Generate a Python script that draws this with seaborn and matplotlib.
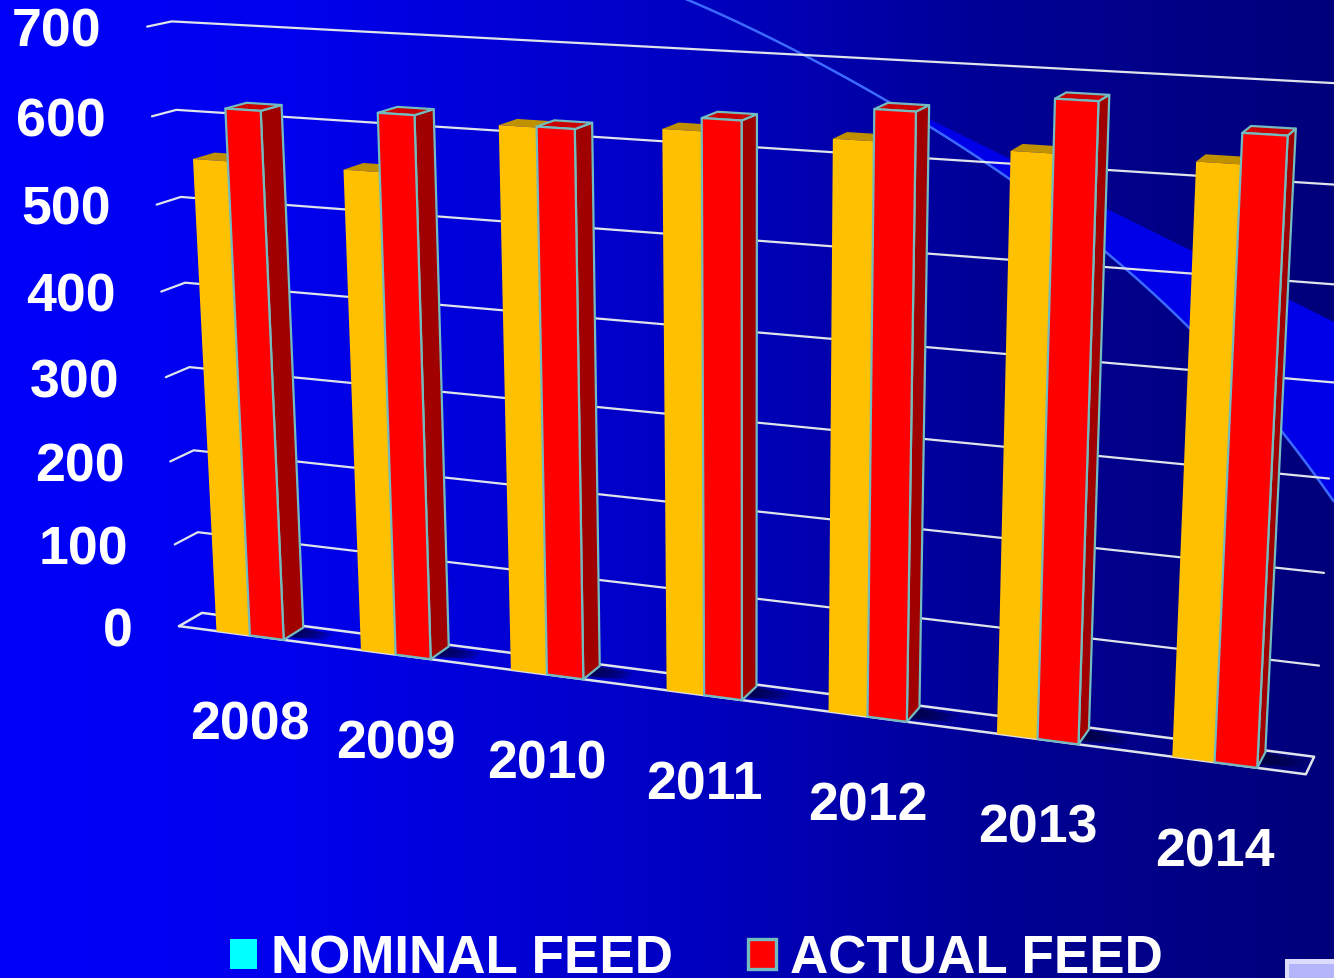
import numpy as np
import pandas as pd
import matplotlib
matplotlib.use("Agg")
import matplotlib.pyplot as plt
from matplotlib.patches import Patch, Polygon
from matplotlib.transforms import Affine2D, Transform
import seaborn as sns

# Feed per year
years = ["2008", "2009", "2010", "2011", "2012", "2013", "2014"]
nominal_feed = [555, 555, 615, 622, 623, 622, 623]
actual_feed = [614, 620, 616, 636, 656, 677, 654]
value_ticks = [0, 100, 200, 300, 400, 500, 600, 700]
series_names = ["NOMINAL FEED", "ACTUAL FEED"]

W, H = 1334, 979
FONT = "Liberation Sans"
BAR_DEPTH = 0.9

sns.set_theme(style="white")
plt.rcParams["font.family"] = [FONT, "DejaVu Sans"]

# Camera fitted to the corners of the chart box: (category, value, depth) -> pixel
box_corners = np.array([
    (-0.5, 0, 0), (-0.5, 700, 0), (-0.5, 0, 1), (-0.5, 700, 1),
    (6.5, 0, 0), (6.5, 700, 0), (6.5, 0, 1), (6.5, 700, 1)], dtype=float)
box_pixels = np.array([
    (179, 627), (147, 28), (202, 614), (172, 22),
    (1306, 775), (1342, 92), (1314, 758), (1350, 85)], dtype=float)


def fit_camera(world, pixels):
    rows, rhs = [], []
    for (x, y, z), (u, v) in zip(world, pixels):
        rows.append([x, y, z, 1, 0, 0, 0, 0, -u * x, -u * y, -u * z])
        rows.append([0, 0, 0, 0, x, y, z, 1, -v * x, -v * y, -v * z])
        rhs += [u, v]
    p = np.linalg.lstsq(np.array(rows), np.array(rhs), rcond=None)[0]
    return np.append(p, 1).reshape(3, 4)


CAM = fit_camera(box_corners, box_pixels)


def project(x, y, z=0.0):
    x, y, z = np.broadcast_arrays(x, y, z)
    q = CAM @ np.vstack([x.ravel(), y.ravel(), z.ravel(), np.ones(x.size)])
    return np.column_stack([q[0] / q[2], q[1] / q[2]])


class FrontPlane(Transform):
    """Sends (category, value) data on the front plane of the box to display pixels."""
    input_dims = output_dims = 2
    is_separable = False
    has_inverse = False

    def transform_non_affine(self, values):
        values = np.asarray(values, dtype=float)
        px = project(values[:, 0], values[:, 1], 0.0)
        return np.column_stack([px[:, 0], H - px[:, 1]])


pixels = Affine2D().scale(1, -1).translate(0, H)
front = FrontPlane()

fig = plt.figure(figsize=(W / 100, H / 100), dpi=100)

# Slide backdrop: horizontal blue fade, bright swoosh and thin curve
bg = fig.add_axes([0, 0, 1, 1], zorder=0)
bg.set_axis_off()
fade_x = [0, 300, 700, 1000, 1334]
fade_blue = [250, 236, 192, 148, 122]
ramp = np.interp(np.arange(W), fade_x, fade_blue) / 255
img = np.zeros((2, W, 3))
img[..., 2] = ramp
bg.imshow(img, aspect="auto", extent=(0, W, H, 0), interpolation="bilinear")
bg.set_xlim(0, W)
bg.set_ylim(H, 0)

curve_x = [685, 805, 885, 1000, 1107, 1188, 1283, 1334]
curve_y = [0, 55, 103, 173, 252, 330, 433, 503]
smooth = np.polynomial.Polynomial.fit(curve_x, curve_y, 4)
sweep_x = np.linspace(curve_x[0], curve_x[-1], 120)
sweep_y = smooth(sweep_x)
edge_x = [1334, 1192, 1107, 1000, 925]
edge_y = [323, 252, 210, 155, 118]
keep = sweep_x >= 885
band = list(zip(sweep_x[keep], sweep_y[keep])) + list(zip(edge_x, edge_y))
bg.add_patch(Polygon(band, closed=True, fc=(0, 0, 232 / 255), ec="none"))
bg.plot(sweep_x, sweep_y, color=(60 / 255, 105 / 255, 1), lw=1.8, solid_capstyle="butt")

# Small bevelled navigation button in the corner
bg.add_patch(Polygon([(1285, 960), (1334, 960), (1334, 979), (1285, 979)],
                     fc="#b4b4fa", ec="none"))
bg.add_patch(Polygon([(1285, 960), (1334, 960), (1334, 965), (1289, 965), (1289, 979), (1285, 979)],
                     fc="#dcdcff", ec="none"))

ax = fig.add_axes([0, 0, 1, 1], zorder=1)
ax.patch.set_visible(False)

table = pd.DataFrame({
    "year": years * 2,
    "feed": nominal_feed + actual_feed,
    "series": [series_names[0]] * len(years) + [series_names[1]] * len(years),
})
sns.barplot(data=table, x="year", y="feed", hue="series", hue_order=series_names,
            palette=["#ffc000", "#ff0000"], saturation=1, width=0.47, gap=0,
            legend=False, ax=ax, zorder=5)
ax.set_axis_off()

GRID = "#dfe3ea"
EDGE = "#72bcc0"
x_left, x_right = -0.5, 6.5

# Back wall rules, their return along the side wall, and the floor outline
for tick in value_ticks[1:]:
    xs = np.array([x_left, x_left, x_right])
    zs = np.array([0.0, 1.0, 1.0])
    ln = project(xs, np.full(3, tick), zs)
    ax.plot(ln[:, 0], ln[:, 1], color=GRID, lw=1.6, transform=pixels, clip_on=False, zorder=2)
floor = project(np.array([x_left, x_left, x_right, x_right, x_left]), 0,
                np.array([0.0, 1.0, 1.0, 0.0, 0.0]))
ax.plot(floor[:, 0], floor[:, 1], color=GRID, lw=1.8, transform=pixels, clip_on=False, zorder=4)

# Extrude each front face into a side and a top, with a soft floor shadow
for container, top_tint, side_tint, line in zip(ax.containers, ["#bf9000", "#cc0000"],
                                                [None, "#a00000"], [None, EDGE]):
    for rect in container:
        rect.set_transform(front)
        rect.set_clip_on(False)
        x0, x1 = rect.get_x(), rect.get_x() + rect.get_width()
        v = rect.get_height()
        if line:
            rect.set_edgecolor(line)
            rect.set_linewidth(1.6)
            rect.set_joinstyle("round")
            for step in range(1, 9):
                reach = x1 + 0.03 * step
                z0, z1 = 0.1 + 0.025 * step, 0.92 - 0.02 * step
                shade = project(np.array([x1, reach, reach, x1]), 0, np.array([z0, z0, z1, z1]))
                ax.add_patch(Polygon(shade, fc="#000038", ec="none", alpha=0.17,
                                     transform=pixels, clip_on=False, zorder=3))
            side = project(np.array([x1, x1, x1, x1]), np.array([0, v, v, 0]),
                           np.array([0, 0, BAR_DEPTH, BAR_DEPTH]))
            ax.add_patch(Polygon(side, fc=side_tint, ec=line, lw=1.6, transform=pixels,
                                 clip_on=False, zorder=6, joinstyle="round"))
        else:
            rect.set_edgecolor("none")
            rect.set_linewidth(0)
        top = project(np.array([x0, x1, x1, x0]), v, np.array([0, 0, BAR_DEPTH, BAR_DEPTH]))
        ax.add_patch(Polygon(top, fc=top_tint, ec=line or "none", lw=1.6 if line else 0,
                             transform=pixels, clip_on=False, zorder=4.5 if not line else 6,
                             joinstyle="round"))

for c in ax.containers[1]:
    c.set_zorder(7)

label_style = dict(color="white", fontsize=38.7, fontweight="bold", family=FONT,
                   annotation_clip=False, zorder=9)
for tick in value_ticks:
    ax.annotate(str(tick), xy=(x_left, tick), xycoords=front, xytext=(-46 * 0.72, -5 * 0.72),
                textcoords="offset points", ha="right", va="center", **label_style)
for i, year in enumerate(years):
    ax.annotate(year, xy=(i, 0), xycoords=front, xytext=(0, -89 * 0.72),
                textcoords="offset points", ha="center", va="center", **label_style)

# Legend swatches keep their own colours
handles = [Patch(fc="#00ffff", ec="none"), Patch(fc="#ff0000", ec=EDGE, lw=2.4)]
ax.legend(handles, series_names, ncol=2, frameon=False, loc="lower left",
          bbox_to_anchor=(230 / W, -0.006), bbox_transform=fig.transFigure,
          borderpad=0, borderaxespad=0, handlelength=0.51, handleheight=0.48,
          handletextpad=0.265, columnspacing=1.42,
          prop={"family": FONT, "weight": "bold", "size": 38.2}, labelcolor="white")

fig.savefig("out.png", dpi=100)
